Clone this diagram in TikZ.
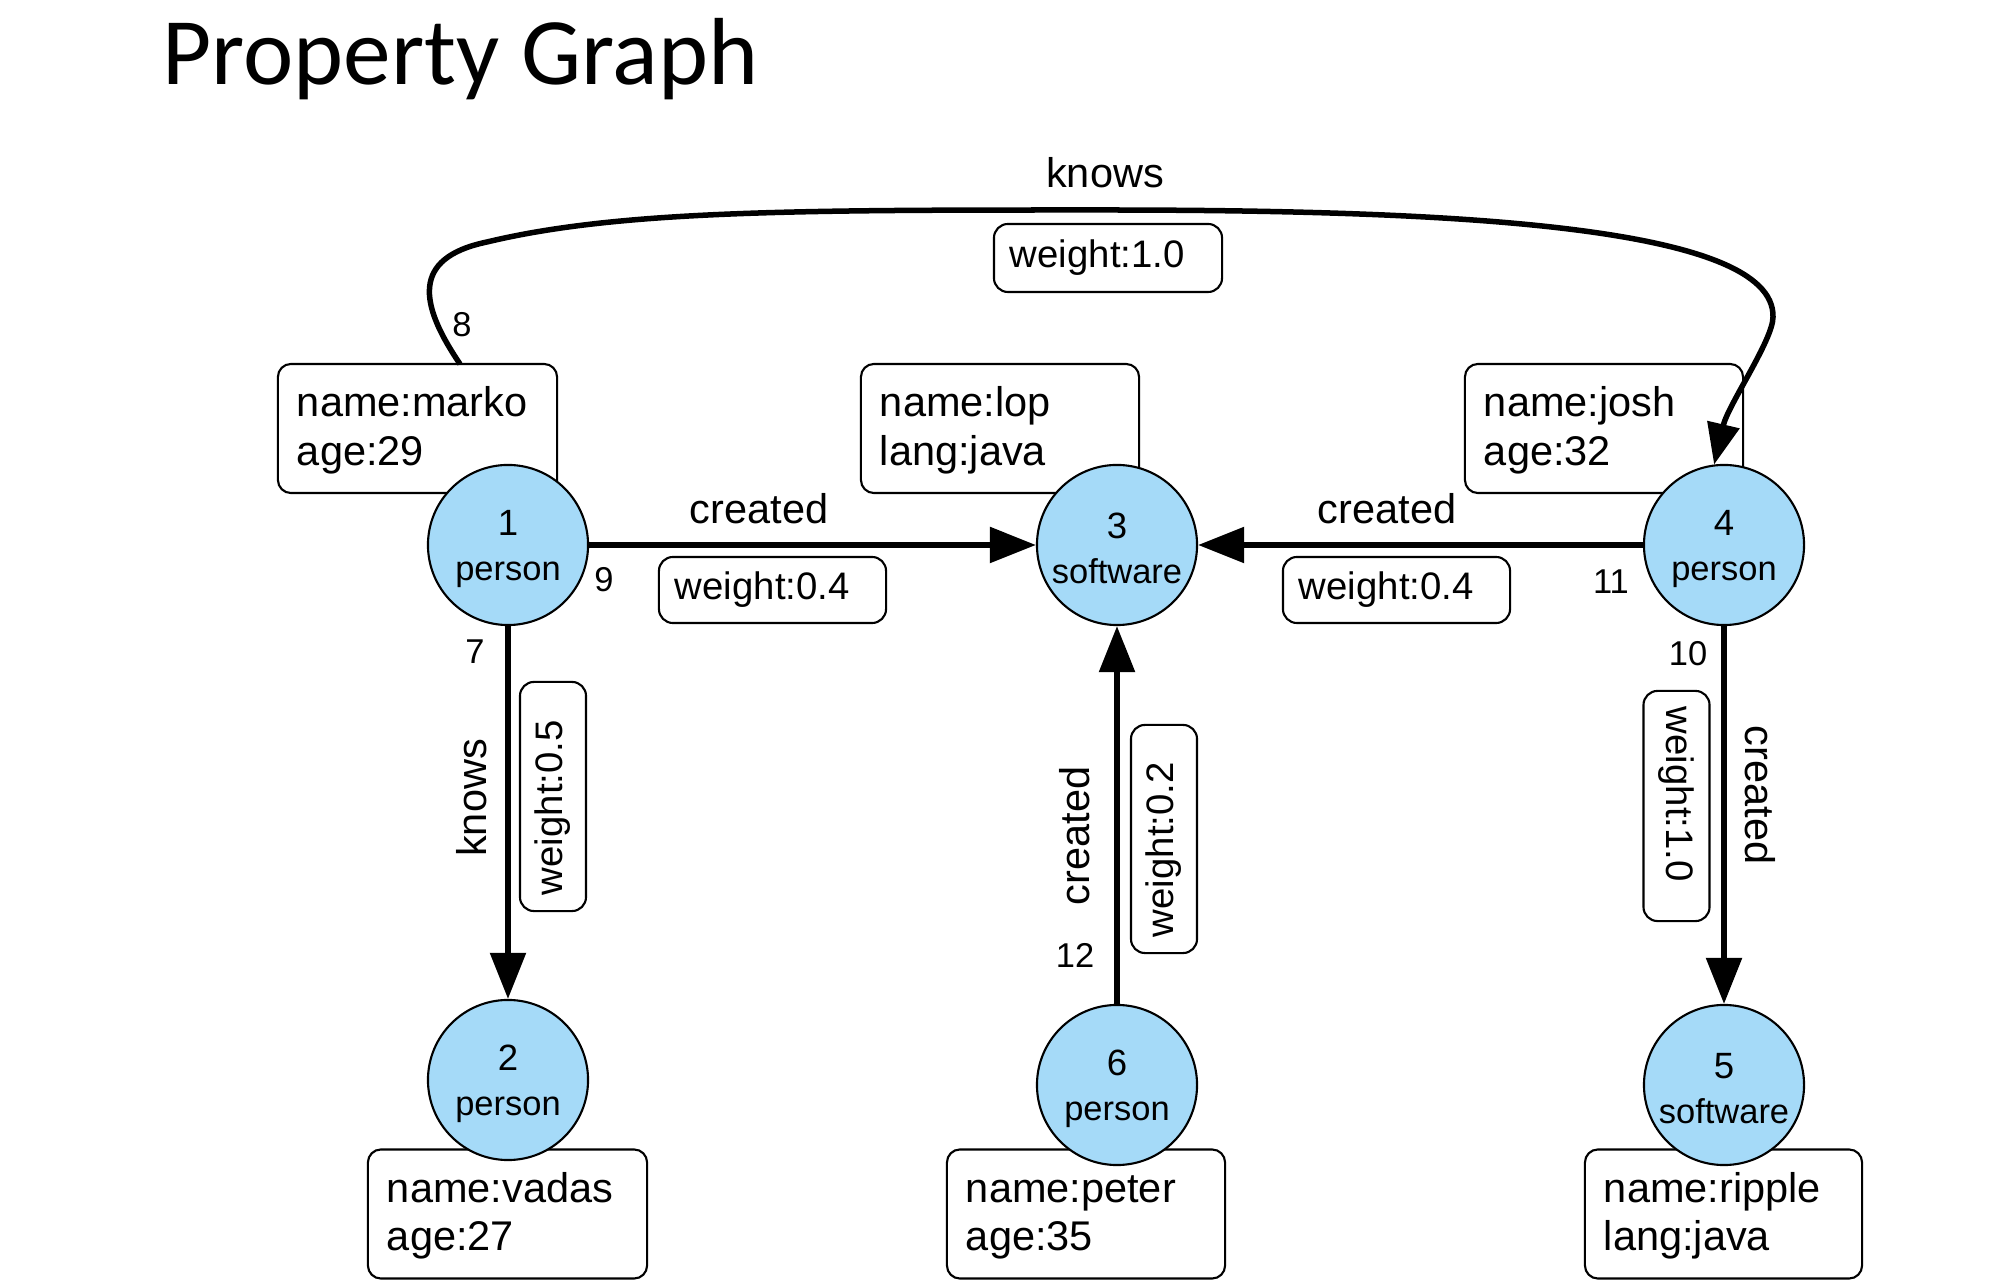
\documentclass[tikz,border=0pt]{standalone}
\usepackage{fontspec}
\setmainfont{Liberation Sans}
\newfontfamily\titlefont{Carlito}
\usetikzlibrary{arrows.meta}
\definecolor{nodeblue}{RGB}{165,218,248}
\newcommand{\fProp}{\fontsize{11.8pt}{13.66pt}\selectfont}
\newcommand{\fWeight}{\fontsize{10.9pt}{13pt}\selectfont}
\newcommand{\fNum}{\fontsize{10.4pt}{12.8pt}\selectfont}
\newcommand{\fType}{\fontsize{9.8pt}{12.8pt}\selectfont}
\newcommand{\fEnum}{\fontsize{9.8pt}{11.5pt}\selectfont}
\tikzset{
  vertex/.style={circle, draw, line width=0.6pt, fill=nodeblue, minimum size=1.6cm,
    inner sep=0pt, align=center, font=\fType},
  pbox/.style={draw, rounded corners=0.13cm, line width=0.6pt, fill=white,
    inner xsep=0.19cm, inner ysep=0pt, minimum height=1.29cm, text width=#1,
    align=left, font=\fProp},
  wbox/.style={draw, rounded corners=0.14cm, line width=0.6pt, fill=white,
    inner xsep=0.16cm, inner ysep=0pt, minimum height=0.66cm, text width=#1,
    align=left, font=\fWeight},
  elabel/.style={inner sep=0pt, font=\fProp},
  enum/.style={inner sep=0pt, font=\fEnum},
  edge/.style={line width=0.055cm, -{Triangle[length=0.46cm,width=0.35cm]}},
  curveedge/.style={line width=0.055cm, -{Triangle[length=0.41cm,width=0.32cm]}}
}
\begin{document}
\begin{tikzpicture}[x=0.01cm, y=-0.01cm]
\useasboundingbox (0,0) rectangle (2000,1280);

% title
\node[anchor=base west, inner sep=0pt, font=\titlefont\fontsize{27.1pt}{32pt}\selectfont]
  (title) at (162,85) {Property Graph};

% property boxes
\node[pbox=2.41cm] (pmarko) at (417.5,428.5) {\strut name:marko\\age:29};
\node[pbox=2.40cm] (plop) at (1000,428.5) {\strut name:lop\\lang:java};
\node[pbox=2.40cm] (pjosh) at (1604,428.5) {\strut name:josh\\age:32};
\node[pbox=2.41cm] (pvadas) at (507.5,1214) {\strut name:vadas\\age:27};
\node[pbox=2.40cm] (ppeter) at (1086,1214) {\strut name:peter\\age:35};
\node[pbox=2.39cm] (pripple) at (1723.5,1214) {\strut name:ripple\\lang:java};

% weight boxes
\node[wbox=1.95cm] (w13) at (772.5,590) {weight:0.4};
\node[wbox=1.95cm] (w43) at (1396.5,590) {weight:0.4};
\node[wbox=1.96cm, minimum height=0.68cm] (w14) at (1108,258) {weight:1.0};
\node[wbox=1.97cm, rotate=90] (w12) at (553,796.5) {weight:0.5};
\node[wbox=1.96cm, rotate=90] (w63) at (1164,839) {weight:0.2};
\node[wbox=1.98cm, rotate=-90] (w45) at (1676.5,806) {weight:1.0};

% vertices
\node[vertex] (n1) at (508,545) {\rule{0pt}{9.2pt}{\fNum 1}\\person};
\node[vertex] (n3) at (1117,545) {\rule{0pt}{9.2pt}{\fNum 3}\\software};
\node[vertex] (n4) at (1724,545) {\rule{0pt}{9.2pt}{\fNum 4}\\person};
\node[vertex] (n2) at (508,1080) {\rule{0pt}{9.2pt}{\fNum 2}\\person};
\node[vertex] (n6) at (1117,1085) {\rule{0pt}{9.2pt}{\fNum 6}\\person};
\node[vertex] (n5) at (1724,1085) {\rule{0pt}{9.2pt}{\fNum 5}\\software};

% edges
\draw[edge] (n1) -- (n3);
\draw[edge] (n4) -- (n3);
\draw[edge] (n1) -- (n2);
\draw[edge] (n6) -- (n3);
\draw[edge] (n4) -- (n5);
\coordinate (kstart) at (460,364);
\draw[curveedge] (kstart) .. controls (420,305) and (410,258) .. (487,242)
  .. controls (620,210) and (800,210) .. (1100,210)
  .. controls (1450,210) and (1775,225) .. (1773,317)
  .. controls (1773,340) and (1728,405) .. (n4.97);

% edge labels
\node[elabel] (lk14) at (1105,173) {knows};
\node[elabel] (lc13) at (759,509) {created};
\node[elabel] (lc43) at (1387,509) {created};
\node[elabel, rotate=90] (lk12) at (472,798) {knows};
\node[elabel, rotate=90] (lc63) at (1075,836) {created};
\node[elabel, rotate=-90] (lc45) at (1760,795) {created};

% edge ids
\node[enum] (e8) at (462,325) {8};
\node[enum] (e9) at (604,580) {9};
\node[enum] (e7) at (475,652) {7};
\node[enum] (e11) at (1611,582) {11};
\node[enum] (e10) at (1688,654) {10};
\node[enum] (e12) at (1075,955) {12};
\end{tikzpicture}
\end{document}
